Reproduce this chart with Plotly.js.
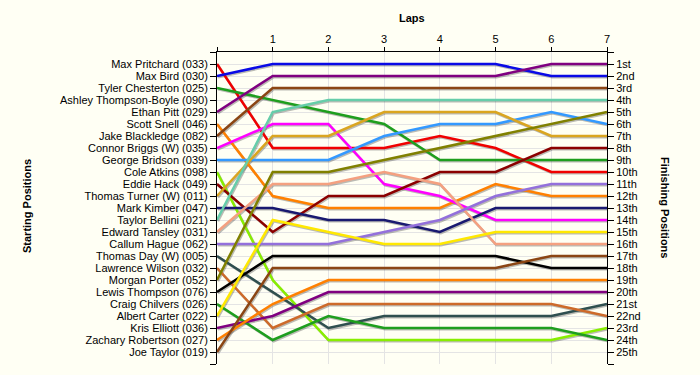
<!DOCTYPE html>
<html>
<head>
<meta charset="utf-8">
<script src="https://cdn.plot.ly/plotly-3.0.1.min.js"></script>
<style>html,body{margin:0;padding:0;background:#fffff4;}#chart{width:700px;height:375px;}</style>
</head>
<body>
<div id="chart"></div>
<script>
// Laps (x values)
const laps = [0, 1, 2, 3, 4, 5, 6, 7];
const lapLabels = ['', '1', '2', '3', '4', '5', '6', '7'];

// Drivers in starting order
const drivers = [
  'Max Pritchard (033)', 'Max Bird (030)', 'Tyler Chesterton (025)', 'Ashley Thompson-Boyle (090)',
  'Ethan Pitt (029)', 'Scott Snell (046)', 'Jake Blackledge (082)', 'Connor Briggs (W) (035)',
  'George Bridson (039)', 'Cole Atkins (098)', 'Eddie Hack (049)', 'Thomas Turner (W) (011)',
  'Mark Kimber (047)', 'Taylor Bellini (021)', 'Edward Tansley (031)', 'Callum Hague (062)',
  'Thomas Day (W) (005)', 'Lawrence Wilson (032)', 'Morgan Porter (052)', 'Lewis Thompson (076)',
  'Craig Chilvers (026)', 'Albert Carter (022)', 'Kris Elliott (036)', 'Zachary Robertson (027)',
  'Joe Taylor (019)'
];

const finishLabels = ['1st','2nd','3rd','4th','5th','6th','7th','8th','9th','10th','11th','12th','13th',
  '14th','15th','16th','17th','18th','19th','20th','21st','22nd','23rd','24th','25th'];

// Position at each lap (lap 0 = start), one array per driver, same order as drivers
const positions = [
  [1, 8, 8, 8, 7, 8, 10, 10],
  [2, 1, 1, 1, 1, 1, 2, 2],
  [3, 4, 5, 6, 9, 9, 9, 9],
  null,
  [5, 2, 2, 2, 2, 2, 1, 1],
  [6, 12, 13, 13, 13, 11, 12, 12],
  [7, 3, 3, 3, 3, 3, 3, 3],
  [8, 6, 6, 11, 12, 14, 14, 14],
  [9, 9, 9, 7, 6, 6, 5, 6],
  [10, 19, 24, 24, 24, 24, 24, 23],
  [11, 15, 12, 12, 10, 10, 8, 8],
  [12, 7, 7, 5, 5, 5, 7, 7],
  [13, 13, 14, 14, 15, 13, 13, 13],
  [14, 5, 4, 4, 4, 4, 4, 4],
  [15, 11, 11, 10, 11, 16, 16, 16],
  [16, 16, 16, 15, 14, 12, 11, 11],
  [17, 20, 23, 22, 22, 22, 22, 21],
  [18, 23, 21, 21, 21, 21, 21, 22],
  [19, 10, 10, 9, 8, 7, 6, 5],
  [20, 17, 17, 17, 17, 17, 18, 18],
  [21, 24, 22, 23, 23, 23, 23, 24],
  [22, 14, 15, 16, 16, 15, 15, 15],
  [23, 22, 20, 20, 20, 20, 20, 20],
  [24, 21, 19, 19, 19, 19, 19, 19],
  [25, 18, 18, 18, 18, 18, 17, 17]
];

// Styles
const colors = [
  '#f00000', '#0a0ae6', '#1e9e1e', '#999999', '#800080', '#ff8000', '#8b4513', '#ff00ff',
  '#3399ff', '#88ee00', '#8b0000', '#daa520', '#191970', '#66cdaa', '#f4a080', '#9370db',
  '#2f4f4f', '#cd6a2a', '#808000', '#000000', '#1e9e1e', '#ffe800', '#800080', '#ff8000',
  '#8b4513'
];

const BG = '#fffff4';
const FONT = 'Liberation Sans, Arial, sans-serif';
const nPos = drivers.length;
const posTicks = [];
for (let i = 0; i <= nPos + 1; i++) posTicks.push(i);
const leftText = [''].concat(drivers, ['']);
const rightText = [''].concat(finishLabels, ['']);

const traces = [];
// shadows (on the shifted, hidden base axes -> drawn beneath)
positions.forEach((p, i) => {
  if (!p) return;
  traces.push({
    x: laps, y: p, type: 'scatter', mode: 'lines', xaxis: 'x', yaxis: 'y',
    line: {color: 'rgba(60,60,60,0.35)', width: 2.5},
    hoverinfo: 'skip', showlegend: false
  });
});
// main lines
positions.forEach((p, i) => {
  if (!p) return;
  traces.push({
    x: laps, y: p, type: 'scatter', mode: 'lines', xaxis: 'x2', yaxis: 'y2',
    name: drivers[i],
    line: {color: colors[i], width: 2.5},
    showlegend: false
  });
});
// anchor trace for right axis
traces.push({x: [null], y: [null], type: 'scatter', mode: 'lines', xaxis: 'x2', yaxis: 'y3', showlegend: false, hoverinfo: 'skip'});

const dx = 7 / 390;      // one pixel in lap units
const dy = 1.3 / 12;     // ~1.3 px in position units

const layout = {
  width: 700, height: 375,
  paper_bgcolor: BG, plot_bgcolor: BG,
  margin: {l: 217, r: 93, t: 52, b: 11},
  showlegend: false,
  font: {family: FONT, size: 11, color: '#000'},
  xaxis: {visible: false, range: [0 - dx, 7 - dx], fixedrange: true},
  yaxis: {visible: false, range: [nPos + 1 - dy, 0 - dy], fixedrange: true},
  xaxis2: {
    overlaying: 'x', side: 'top', anchor: 'y2', range: [0, 7],
    tickmode: 'array', tickvals: laps, ticktext: lapLabels,
    ticks: 'outside', ticklen: 4, tickcolor: '#000',
    showline: true, linecolor: '#000', linewidth: 1,
    showgrid: true, gridcolor: '#e4e4e4', gridwidth: 1, zeroline: false,
    tickfont: {family: FONT, size: 11, color: '#000'}
  },
  yaxis2: {
    overlaying: 'y', side: 'left', anchor: 'x2', range: [nPos + 1, 0],
    tickmode: 'array', tickvals: posTicks, ticktext: leftText,
    ticks: 'outside', ticklen: 6, tickcolor: '#000',
    showline: true, linecolor: '#000', linewidth: 1,
    showgrid: true, gridcolor: '#e4e4e4', gridwidth: 1, zeroline: false,
    tickfont: {family: FONT, size: 11, color: '#000'}
  },
  yaxis3: {
    overlaying: 'y', side: 'right', anchor: 'x2', range: [nPos + 1, 0],
    tickmode: 'array', tickvals: posTicks, ticktext: rightText,
    ticks: 'outside', ticklen: 6, tickcolor: '#000',
    showline: true, linecolor: '#000', linewidth: 1,
    showgrid: false, zeroline: false,
    tickfont: {family: FONT, size: 11, color: '#000'}
  },
  annotations: [
    {text: '<b>Laps</b>', xref: 'paper', yref: 'paper', x: 0.5, y: (364 - 18) / 312,
     xanchor: 'center', yanchor: 'middle', showarrow: false, font: {family: FONT, size: 11, color: '#000'}},
    {text: '<b>Starting Positions</b>', xref: 'paper', yref: 'paper', x: (27 - 217) / 390, y: (364 - 206) / 312,
     xanchor: 'center', yanchor: 'middle', textangle: -90, showarrow: false, font: {family: FONT, size: 11, color: '#000'}},
    {text: '<b>Finishing Positions</b>', xref: 'paper', yref: 'paper', x: (665 - 217) / 390, y: (364 - 207) / 312,
     xanchor: 'center', yanchor: 'middle', textangle: 90, showarrow: false, font: {family: FONT, size: 11, color: '#000'}}
  ]
};

Plotly.newPlot('chart', traces, layout, {displayModeBar: false, staticPlot: true});
</script>
</body>
</html>
